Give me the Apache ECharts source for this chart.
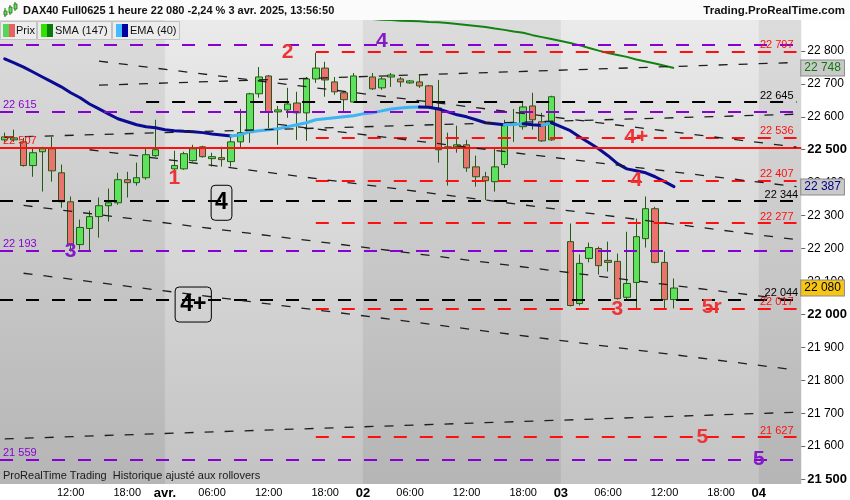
<!DOCTYPE html>
<html><head><meta charset="utf-8">
<script src="https://cdn.jsdelivr.net/npm/echarts@6/dist/echarts.min.js"></script>
<style>html,body{margin:0;padding:0;background:#fff}#c{width:850px;height:500px}</style>
</head><body><div id="c"></div>
<script>
// ---- time slots (hourly bars, day start slot is empty) ----
const days = [['31',5,21],['01',1,21],['02',1,21],['03',1,21],['04',1,5]];
const categories = [];
days.forEach(([d,a,b])=>{for(let h=a;h<=b;h++) categories.push(d+' '+String(h).padStart(2,'0')+':00');});
const xTickSlots  = [7,13,17,22,28,34,38,43,49,55,59,64,70,76,80];
const xTickLabels = ['12:00','18:00','avr.','06:00','12:00','18:00','02','06:00','12:00','18:00','03','06:00','12:00','18:00','04'];
const xDayLabels  = ['avr.','02','03','04'];

// ---- candles ----
const opens = [22530,22530,22524,22452,22494,22503,22430,22342,22212,22261,22297,22330,22339,22409,22400,22415,22482,null,
 22442,22442,22467,22509,22473,22476,22464,22524,22552,22670,22724,22615,22621,22642,22612,22715,22748,22706,22673,22645,null,
 22721,22688,22721,22715,22703,22706,22694,22627,22506,22509,22515,22448,22418,22403,22455,22576,22570,22633,22585,22530,null,
 22221,22033,22170,22200,22164,22161,22052,22097,22230,22321,22158,22045];
const closes = [22539,22536,22452,22491,22503,22436,22342,22212,22264,22297,22330,22339,22409,22400,22415,22485,22500,null,
 22452,22488,22503,22479,22479,22470,22524,22552,22670,22721,22615,22621,22639,22612,22715,22748,22712,22676,22652,22724,null,
 22685,22715,22727,22706,22709,22694,22630,22500,22509,22515,22445,22418,22406,22448,22576,22582,22630,22591,22527,22661,null,
 22027,22155,22203,22148,22158,22048,22094,22236,22321,22158,22045,22080];
const lows = [22524,22524,22449,22418,22373,22403,22324,22191,22197,22191,22233,22282,22333,22355,22391,22409,22479,null,
 22439,22439,22464,22476,22449,22449,22449,22506,22521,22658,22564,22515,22597,22530,22527,22703,22661,22667,22615,22642,null,
 22682,22682,22691,22691,22700,22688,22627,22461,22391,22491,22433,22388,22348,22373,22445,22524,22561,22561,22524,22527,null,
 22024,22027,22158,22121,22130,22045,22045,22018,22203,22155,22018,22018];
const highs = [22552,22561,22536,22506,22509,22539,22455,22358,22288,22315,22355,22382,22430,22433,22461,22506,22591,null,
 22497,22494,22515,22512,22491,22509,22545,22624,22673,22751,22727,22633,22688,22676,22721,22794,22767,22721,22676,22733,null,
 22733,22721,22733,22721,22712,22727,22697,22712,22552,22573,22530,22482,22433,22506,22591,22624,22642,22673,22612,22664,null,
 22276,22182,22218,22206,22221,22185,22251,22291,22358,22327,22191,22109];

// ---- indicators ----
const ema40 = [22776,22764,22751,22736,22721,22706,22691,22673,22658,22639,22624,22609,22594,22585,22576,22570,22567,22561,
 22558,22556,22555,22552,22548,22545,22542,22545,22555,22558,22561,22564,22570,22576,22582,22591,22594,22597,22600,22603,22609,
 22612,22618,22624,22627,22629,22630,22629,22624,22615,22606,22600,22591,22582,22579,22576,22577,22579,22576,22574,22582,22570,
 22558,22539,22521,22503,22482,22458,22442,22436,22430,22418,22403,22388];
const smaStart = 36;
const sma147 = [22903,22901,22900,22897,22895,22894,22892,22891,22890,22888,22887,22885,22882,22879,22876,22873,22868,22864,
 22859,22855,22848,22842,22836,22830,22824,22817,22809,22801,22794,22788,22782,22774,22768,22762,22755,22748];

// ---- drawn objects ----
const yTicks = [21500,21600,21700,21800,21900,22000,22100,22200,22300,22400,22500,22600,22700,22800];
const levelValues = [22820,22797,22645,22615,22536,22507,22407,22344,22277,22193,22044,22017,21627,21559];
const levelKinds  = ['p','r','k','p','r','rs','r','k','r','p','k','r','r','p'];
const levelStart  = [null,33,15,null,33,null,33,null,33,null,null,33,33,null];
const levelLabels = ['', '22 797','22 645','22 615','22 536','22 507','22 407','22 344','22 277','22 193','22 044','22 017','21 627','21 559'];
const levelLabelSide = ['end','end','end','start','end','start','end','end','end','start','end','end','end','start'];
const trendLines = [
  [[10,22769],[84,22508]],
  [[29,22577],[84,22388]],
  [[9,22500],[84,22227]],
  [[2,22331],[84,22042]],
  [[0,22538],[84,22608]],
  [[2,22125],[84,21831]],
  [[0,21622],[84,21703]],
  [[10,22696],[84,22765]]
];
const markerTexts  = ['2','4','1','3','4','4+','4+','4','3','5r','5','5'];
const markerSlots  = [30,40,18,7,23,20,67,67,65,75,74,80];
const markerPrices = [22797,22830,22415,22191,22339,22030,22539,22409,22015,22021,21627,21561];
const markerKinds  = ['r','p','r','p','box','box','r','r','r','r','r','p'];
const tagValues = [22748,22387,22080];
const tagTexts  = ['22 748','22 387','22 080'];
const tagColors = ['#0a7a0a','#00008b','#000000'];
const tagBgs    = ['#c9c9c9','#c9c9c9','#f7c614'];

// ---- build ----
const N = categories.length;
const candleData = categories.map((c,i)=> (i<opens.length && opens[i]!=null) ? [opens[i],closes[i],lows[i],highs[i]] : '-');
const smaData = new Array(N).fill('-'); sma147.forEach((v,i)=>smaData[smaStart+i]=v);

const RED='#ff1010', PURPLE='#8a00d4', BLACK='#000000';
const colorOf = k => k==='p'?PURPLE:(k==='k'?BLACK:RED);

// EMA runs coloured by slope
const emaSeries = [];
let runStart = 0, runUp = ema40[1] > ema40[0];
const pushRun = (a,b,up)=>{
  const d = new Array(N).fill('-'); for(let i=a;i<=b;i++) d[i]=ema40[i];
  emaSeries.push({type:'line', data:d, symbol:'none', silent:true, z:4,
    lineStyle:{width:3, color: up?'#3fb4f2':'#0a0a92', cap:'round', join:'round'}});
};
for(let i=2;i<ema40.length;i++){
  const up = ema40[i] > ema40[i-1];
  if(up!==runUp){ pushRun(runStart,i-1,runUp); runStart=i-1; runUp=up; }
}
pushRun(runStart, ema40.length-1, runUp);

const markLines = [];
levelValues.forEach((v,i)=>{
  const k = levelKinds[i], col = colorOf(k);
  const ls = {color: col, width: 2, type: k==='rs' ? 'solid' : [13,13]};
  const lab = levelLabels[i] ? {show:true, formatter: levelLabels[i], position: levelLabelSide[i]==='end'?'insideEndTop':'insideStartTop',
      color: col, fontSize: 11, fontFamily:'Arial', distance:[3,1]} : {show:false};
  if(levelStart[i]==null){
    markLines.push({yAxis: v, lineStyle: ls, label: lab});
  } else {
    markLines.push([{coord:[levelStart[i], v], lineStyle: ls, label: lab},{coord:[84, v]}]);
  }
});
trendLines.forEach(t=>{
  markLines.push([{coord:t[0], lineStyle:{color:'#1e1e1e', width:1.3, type:[9,11]}, label:{show:false}},{coord:t[1]}]);
});
tagValues.forEach((v,i)=>{
  markLines.push({yAxis:v, lineStyle:{color:'rgba(0,0,0,0)', width:0}, label:{show:true, position:'end', formatter: tagTexts[i], distance:0,
    color: tagColors[i], backgroundColor: tagBgs[i], borderColor:'#8a8a8a', borderWidth:1, padding:[2,3,1,3], fontSize:12, fontFamily:'Arial'}});
});

const markPoints = markerTexts.map((t,i)=>{
  const k = markerKinds[i];
  const label = k==='box'
    ? {show:true, position:'inside', formatter:t, color:'#000', fontSize:23, fontWeight:'bold', fontFamily:'Arial',
       borderColor:'#000', borderWidth:1, borderRadius:4, padding: t.length>1?[6,5,6,5]:[6,4,6,4]}
    : {show:true, position:'inside', formatter:t, color: k==='p'?'#8419c8':'#ec3438', fontSize:21, fontWeight:'bold', fontFamily:'Arial'};
  return {coord:[markerSlots[i], markerPrices[i]], label};
});

const narrow = "'Liberation Sans Narrow','Arial Narrow',Arial,sans-serif";
const chart = echarts.init(document.getElementById('c'), null, {renderer:'canvas'});
chart.setOption({
  animation:false,
  backgroundColor:'#ffffff',
  textStyle:{fontFamily:'Arial'},
  grid:{left:0, top:20, width:803, height:465, show:true, borderWidth:0,
    backgroundColor:{type:'linear',x:0,y:0,x2:0,y2:1,colorStops:[{offset:0,color:'#dcdcdc'},{offset:1,color:'#b5b5b5'}]}},
  xAxis:{type:'category', data:categories, boundaryGap:true,
    axisLine:{show:false}, axisTick:{show:false}, splitLine:{show:false},
    axisLabel:{interval:(i)=>xTickSlots.indexOf(i)>=0, margin:3, color:'#000', fontSize:11, fontFamily:narrow,
      formatter:(v,i)=>{ const t = xTickLabels[xTickSlots.indexOf(i)] || ''; return xDayLabels.indexOf(t)>=0 ? '{d|'+t+'}' : t; },
      rich:{d:{fontWeight:'bold', fontSize:13, fontFamily:narrow, color:'#000'}}}},
  yAxis:{type:'value', position:'right', min:21485, max:22894, scale:true,
    axisLine:{show:false}, splitLine:{show:false},
    axisTick:{show:true, length:4, lineStyle:{color:'#666'}, customValues:yTicks},
    axisLabel:{customValues:yTicks, margin:6, color:'#000', fontSize:12, fontFamily:'Arial',
      formatter:(v)=>{ const s=String(v); const t=s.slice(0,2)+' '+s.slice(2); return v%500===0?'{b|'+t+'}':t; },
      rich:{b:{fontWeight:'bold', fontSize:13, color:'#000', fontFamily:'Arial'}}}},
  series:[
    {type:'line', data:new Array(N).fill('-'), symbol:'none', silent:true, z:1,
      markArea:{silent:true, z:1, itemStyle:{color:{type:'linear',x:0,y:0,x2:0,y2:1,colorStops:[{offset:0,color:'#eaeaea'},{offset:1,color:'#c3c3c3'}]}},
        data:[[{xAxis:17},{xAxis:38}],[{xAxis:59},{xAxis:80}]]}},
    {type:'candlestick', name:'Prix', data:candleData, barWidth:7, z:2, silent:true,
      itemStyle:{color:'#5ee25e', color0:'#ea7370', borderColor:'#245a12', borderColor0:'#245a12', borderWidth:1}},
    {type:'line', name:'SMA', data:smaData, symbol:'none', silent:true, z:4, lineStyle:{width:2, color:'#128212'}},
    ...emaSeries,
    {type:'line', data:new Array(N).fill('-'), symbol:'none', silent:true, z:5,
      markLine:{silent:true, symbol:['none','none'], animation:false, data:markLines},
      markPoint:{silent:true, symbol:'circle', symbolSize:1, itemStyle:{color:'rgba(0,0,0,0)'}, data:markPoints}}
  ],
  graphic:[
    {type:'rect', shape:{x:0,y:0,width:850,height:20}, style:{fill:'#fbfbfb'}, z:100},
    {type:'line', shape:{x1:5,y1:8,x2:5,y2:17}, style:{stroke:'#2a6a12',lineWidth:1}, z:101},
    {type:'rect', shape:{x:4,y:11,width:3,height:4}, style:{fill:'#5ee25e',stroke:'#2a6a12',lineWidth:0.8}, z:102},
    {type:'line', shape:{x1:10,y1:5,x2:10,y2:15}, style:{stroke:'#2a6a12',lineWidth:1}, z:101},
    {type:'rect', shape:{x:9,y:7,width:3,height:6}, style:{fill:'#5ee25e',stroke:'#2a6a12',lineWidth:0.8}, z:102},
    {type:'line', shape:{x1:15,y1:2,x2:15,y2:11}, style:{stroke:'#2a6a12',lineWidth:1}, z:101},
    {type:'rect', shape:{x:14,y:4,width:3,height:5}, style:{fill:'#5ee25e',stroke:'#2a6a12',lineWidth:0.8}, z:102},
    {type:'text', x:23, y:11, style:{text:'DAX40 Full0625 1 heure 22 080 -2,24 % 3 avr. 2025, 13:56:50', font:'bold 11px Arial', fill:'#111', textVerticalAlign:'middle'}, z:101},
    {type:'text', x:845, y:11, style:{text:'Trading.ProRealTime.com', font:'bold 11.5px Arial', fill:'#111', textAlign:'right', textVerticalAlign:'middle'}, z:101},
    {type:'rect', shape:{x:0.5,y:21.5,width:36,height:18}, style:{fill:'#ececec',stroke:'#c2c2c2',lineWidth:1}, z:100},
    {type:'rect', shape:{x:3,y:24,width:6,height:13}, style:{fill:'#55d655'}, z:101},
    {type:'rect', shape:{x:9,y:24,width:6,height:13}, style:{fill:'#e46262'}, z:101},
    {type:'text', x:16, y:30.5, style:{text:'Prix', font:'11px Arial', fill:'#111', textVerticalAlign:'middle'}, z:101},
    {type:'rect', shape:{x:37.5,y:21.5,width:74,height:18}, style:{fill:'#ececec',stroke:'#c2c2c2',lineWidth:1}, z:100},
    {type:'rect', shape:{x:41,y:24,width:6,height:13}, style:{fill:'#33e000'}, z:101},
    {type:'rect', shape:{x:47,y:24,width:6,height:13}, style:{fill:'#0a7a0a'}, z:101},
    {type:'text', x:55, y:30.5, style:{text:'SMA (147)', font:'11px Arial', fill:'#111', textVerticalAlign:'middle'}, z:101},
    {type:'rect', shape:{x:112.5,y:21.5,width:67,height:18}, style:{fill:'#ececec',stroke:'#c2c2c2',lineWidth:1}, z:100},
    {type:'rect', shape:{x:116,y:24,width:6,height:13}, style:{fill:'#44bbff'}, z:101},
    {type:'rect', shape:{x:122,y:24,width:6,height:13}, style:{fill:'#0000a0'}, z:101},
    {type:'text', x:130, y:30.5, style:{text:'EMA (40)', font:'11px Arial', fill:'#111', textVerticalAlign:'middle'}, z:101},
    {type:'text', x:3, y:476, style:{text:'ProRealTime Trading  Historique ajusté aux rollovers', font:'11px Arial', fill:'#1a1a1a', textVerticalAlign:'middle'}, z:101}
  ]
});
</script></body></html>
